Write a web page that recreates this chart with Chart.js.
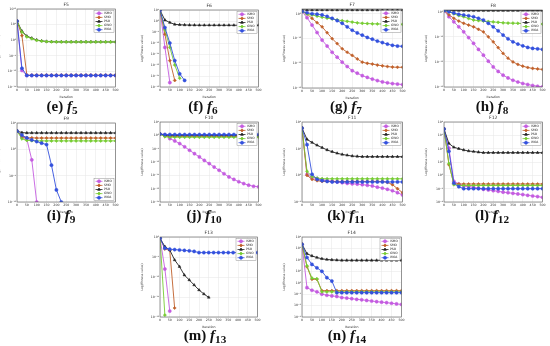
<!DOCTYPE html>
<html>
<head>
<meta charset="utf-8">
<script src="https://cdn.jsdelivr.net/npm/chart.js@4.4.0/dist/chart.umd.min.js"></script>
<style>
  body { margin: 0; background: #fff; width: 550px; height: 346px; position: relative; overflow: hidden; }
  canvas { position: absolute; }
  .cap { position: absolute; transform: translate(-50%, -50%); white-space: nowrap;
         font: bold 15px "Liberation Serif", "DejaVu Serif", serif; color: #111; }
  .cap sub { font-size: 0.75em; vertical-align: -0.25em; }
</style>
</head>
<body>
<script>
// iteration grid (one sample every 25 iterations)
const iters = [0,25,50,75,100,125,150,175,200,225,250,275,300,325,350,375,400,425,450,475,500];
const algNames = ['ISMO', 'SMO', 'PSO', 'GWO', 'WOA'];

// F5
const f5_ticks = [1e10, 1e5, 1e0, 1e-5, 1e-10, 1e-15];
const f5_ISMO = [1.3e6,2e-10,5e-12,5e-12,5e-12,5e-12,5e-12,5e-12,5e-12,5e-12,5e-12,5e-12,5e-12,5e-12,5e-12,5e-12,5e-12,5e-12,5e-12,5e-12,5e-12];
const f5_SMO  = [1.3e6,3e1,6e-12,6e-12,6e-12,6e-12,6e-12,6e-12,6e-12,6e-12,6e-12,6e-12,6e-12,6e-12,6e-12,6e-12,6e-12,6e-12,6e-12,6e-12,6e-12];
const f5_PSO  = [1.3e6,8e2,2e1,4.5,1.2,0.6,0.4,0.33,0.3,0.29,0.28,0.28,0.28,0.28,0.28,0.28,0.28,0.28,0.28,0.28,0.28];
const f5_GWO  = [1.3e6,4e2,1.2e1,3,0.9,0.5,0.36,0.31,0.29,0.28,0.27,0.27,0.27,0.27,0.27,0.27,0.27,0.27,0.27,0.27,0.27];
const f5_WOA  = [1.3e6,1e-9,5e-12,5e-12,5e-12,5e-12,5e-12,5e-12,5e-12,5e-12,5e-12,5e-12,5e-12,5e-12,5e-12,5e-12,5e-12,5e-12,5e-12,5e-12,5e-12];

// F6
const f6_ticks = [1e5, 1e0, 1e-5, 1e-10, 1e-15, 1e-20, 1e-25, 1e-30];
const f6_ISMO = [8e4,1e-12,1e-28];
const f6_SMO  = [8e4,1e-6,1e-18,1e-27];
const f6_PSO  = [8e4,2.5,0.2,0.03,0.02,0.016,0.014,0.013,0.012,0.012,0.012,0.012,0.012,0.012,0.012,0.012,0.012,0.012,0.012,0.012,0.012];
const f6_GWO  = [8e4,1e-4,1e-12,1e-20,1e-26];
const f6_WOA  = [8e4,1e-3,1e-10,1e-18,1e-24,1e-27];

// F7
const f7_ticks = [1e0, 1e-10, 1e-20, 1e-30];
const f7_ISMO = [10,0.03,3e-5,3e-8,2.5e-11,1e-13,3e-16,3e-18,3e-20,5e-22,1e-23,1e-24,1e-25,2e-26,4e-27,1e-27,3e-28,1.3e-28,6e-29,4e-29,2.5e-29];
const f7_SMO  = [10,1,0.016,3e-4,6e-6,2.5e-8,1e-10,1e-12,8e-15,3e-16,1.6e-17,6e-19,3e-20,1e-20,5e-21,2e-21,1e-21,5e-22,3e-22,2.5e-22,2.5e-22];
const f7_PSO  = [50,40,40,40,40,40,40,40,40,40,40,40,40,40,40,40,40,40,40,40,40];
const f7_GWO  = [10,1,0.4,0.13,0.045,0.02,0.01,4e-3,1.8e-3,1e-3,5e-4,2.5e-4,1.6e-4,1.3e-4,1e-4,9e-5,8e-5,7e-5,6.3e-5,6.3e-5,6e-5];
const f7_WOA  = [10,3,1.2,0.8,0.4,0.1,0.017,2e-3,1.6e-4,6e-6,2.5e-7,2e-8,2.5e-9,3e-10,6e-11,1e-11,2.5e-12,6e-13,2e-13,1e-13,8e-14];

// F8
const f8_ticks = [1e0, 1e-10, 1e-20, 1e-30];
const f8_ISMO = [3,1e-2,1e-4,1e-6,1e-8,5e-11,2.5e-13,1e-15,5e-18,2e-20,1e-22,1.6e-24,5e-26,4e-27,5e-28,1e-28,2.5e-29,1e-29,4e-30,2e-30,1.2e-30];
const f8_SMO  = [3,0.06,2.5e-3,2e-4,2.5e-5,5e-6,1e-6,1e-7,1e-8,1e-10,1e-12,5e-15,2.5e-17,3e-19,1e-20,1e-21,2e-22,6e-23,2.5e-23,1.6e-23,1e-23];
const f8_PSO  = [3,3,3,3,3,3,3,3,3,3,3,3,3,3,3,3,3,3,3,3,3];
const f8_GWO  = [3,1,0.16,0.03,0.01,2e-3,5e-4,3e-4,2e-4,1.3e-4,9e-5,6e-5,4e-5,3e-5,2.8e-5,2.5e-5,2e-5,1.8e-5,1.6e-5,1.4e-5,1.25e-5];
const f8_WOA  = [3,1,0.3,0.1,0.05,0.025,0.01,2.5e-3,5e-4,2.5e-5,1e-6,2.5e-8,5e-10,1.6e-11,1e-12,1.3e-13,2.5e-14,6e-15,2.5e-15,1.6e-15,1e-15];

// F9
const f9_ticks = [1e5, 1e0, 1e-5, 1e-10];
const f9_ISMO = [3e3,2e2,9e1,1e-2,1e-10];
const f9_SMO  = [3e3,2.5e2,1.6e2,1.5e2,1.4e2,1.4e2,1.4e2,1.4e2,1.4e2,1.4e2,1.4e2,1.4e2,1.4e2,1.4e2,1.4e2,1.4e2,1.4e2,1.4e2,1.4e2,1.4e2,1.4e2];
const f9_PSO  = [3e3,1.5e3,1.3e3,1.3e3,1.3e3,1.3e3,1.3e3,1.3e3,1.3e3,1.3e3,1.3e3,1.3e3,1.3e3,1.3e3,1.3e3,1.3e3,1.3e3,1.3e3,1.3e3,1.3e3,1.3e3];
const f9_GWO  = [3e3,1e2,5e1,4.5e1,4e1,4e1,4e1,4e1,4e1,4e1,4e1,4e1,4e1,4e1,4e1,4e1,4e1,4e1,4e1,4e1,4e1];
const f9_WOA  = [3e3,5e2,1.5e2,6e1,3e1,15,8,1e-3,2e-8,1e-10];

// F10
const f10_ticks = [1e5, 1e0, 1e-5, 1e-10, 1e-15, 1e-20, 1e-25];
const f10_ISMO = [3,1.6,6e-2,8e-3,8e-4,5e-5,2.5e-6,1.3e-7,8e-9,4e-10,2.5e-11,1.3e-12,8e-14,4e-15,2.5e-16,3e-17,4e-18,8e-19,2e-19,8e-20,5e-20];
const f10_SMO  = [3,0.5,0.4,0.4,0.4,0.4,0.4,0.4,0.4,0.4,0.4,0.4,0.4,0.4,0.4,0.4,0.4,0.4,0.4,0.4,0.4];
const f10_PSO  = [3,1.2,1,1,1,1,1,1,1,1,1,1,1,1,1,1,1,1,1,1,1];
const f10_GWO  = [3,0.3,0.2,0.2,0.2,0.2,0.2,0.2,0.2,0.2,0.2,0.2,0.2,0.2,0.2,0.2,0.2,0.2,0.2,0.2,0.2];
const f10_WOA  = [3,2,2,2,2,2,2,2,2,2,2,2,2,2,2,2,2,2,2,2,2];

// F11
const f11_ticks = [1e4, 1e2, 1e0, 1e-2];
const f11_ISMO = [3.5e3,1.15,0.7,0.56,0.47,0.4,0.35,0.32,0.28,0.25,0.23,0.22,0.2,0.18,0.16,0.13,0.11,0.09,0.07,0.05,0.034];
const f11_SMO  = [3.5e3,1,0.5,0.4,0.35,0.35,0.35,0.35,0.35,0.35,0.35,0.35,0.35,0.35,0.35,0.35,0.35,0.3,0.2,0.1,0.05];
const f11_PSO  = [3.5e3,5e2,2.9e2,1.8e2,1.2e2,80,59,45,37,32,28,26.5,25,25,25,25,25,25,25,25,25];
const f11_GWO  = [3.5e3,2,0.8,0.63,0.56,0.55,0.55,0.55,0.55,0.55,0.55,0.55,0.55,0.55,0.55,0.55,0.55,0.55,0.55,0.55,0.55];
const f11_WOA  = [3.5e3,2e2,1.2,0.5,0.4,0.35,0.32,0.32,0.32,0.32,0.32,0.32,0.32,0.32,0.32,0.32,0.32,0.32,0.32,0.32,0.32];

// F12
const f12_ticks = [1e8, 1e6, 1e4, 1e2, 1e0, 1e-2, 1e-4];
const f12_ISMO = [9e6,1.2e4,0.13,0.05,0.025,0.02,0.016,0.012,8e-3,6.5e-3,5e-3,4e-3,3e-3,2.5e-3,2e-3,1.6e-3,1.3e-3,1e-3,8e-4,6.5e-4,5e-4];
const f12_SMO  = [9e6,40,0.06,0.05,0.05,0.05,0.05,0.05,0.05,0.05,0.05,0.05,0.05,0.05,0.05,0.05,0.05,0.05,0.05,0.05,0.05];
const f12_PSO  = [9e6,6e4,1.6e4,1e4,6.3e3,4.5e3,3.7e3,3e3,2.5e3,2.5e3,2.5e3,2.5e3,2.5e3,2.5e3,2.5e3,2.5e3,2.5e3,2.5e3,2.5e3,2.5e3,2.5e3];
const f12_GWO  = [9e6,60,0.04,0.03,0.03,0.03,0.03,0.03,0.03,0.03,0.03,0.03,0.03,0.03,0.03,0.03,0.03,0.03,0.03,0.03,0.03];
const f12_WOA  = [9e6,4e3,0.07,0.02,0.01,0.01,0.01,0.01,0.01,0.01,0.01,0.01,0.01,0.01,0.01,0.01,0.01,0.01,0.01,0.01,0.01];

// F13
const f13_ticks = [1e0, 1e-5, 1e-10, 1e-15, 1e-20];
const f13_ISMO = [0.5,1e-8,3e-19];
const f13_SMO  = [0.5,1e-3,5e-4,1.8e-18];
const f13_PSO  = [0.5,4e-3,5.6e-4,1.8e-6,4e-8,3e-10,1.8e-11,1e-12,5.6e-14,5.6e-15,8e-16];
const f13_GWO  = [0.5,3e-20];
const f13_WOA  = [0.5,1.6e-3,9e-4,7e-4,5.6e-4,4.5e-4,3.5e-4,2.5e-4,1.25e-4,1.25e-4,1.25e-4,1.25e-4,1.25e-4,1.25e-4,1.25e-4,1.25e-4,1.25e-4,1.25e-4,1.25e-4,1.25e-4,1.25e-4];

// F14
const f14_ticks = [1e4, 1e3, 1e2, 1e1, 1e0, 1e-1, 1e-2, 1e-3];
const f14_ISMO = [2.3e3,0.37,0.22,0.16,0.1,0.08,0.07,0.063,0.05,0.045,0.04,0.035,0.032,0.028,0.025,0.022,0.02,0.018,0.016,0.014,0.0126];
const f14_SMO  = [2.3e3,25,2,2,0.2,0.2,0.2,0.2,0.2,0.2,0.2,0.2,0.2,0.2,0.2,0.2,0.2,0.2,0.2,0.2,0.2];
const f14_PSO  = [2.3e3,3.5e2,2.2e2,1.6e2,1.25e2,1.07e2,1e2,95,91,91,91,91,91,91,91,91,91,91,91,91,91];
const f14_GWO  = [2.3e3,30,2.5,2.2,0.16,0.16,0.16,0.16,0.16,0.16,0.16,0.16,0.16,0.16,0.16,0.16,0.16,0.16,0.16,0.16,0.16];
const f14_WOA  = [2.3e3,1.6e2,40,20,10,2.75,1.4,0.135,0.135,0.135,0.135,0.135,0.135,0.135,0.135,0.135,0.135,0.135,0.135,0.135,0.135];

const colors = ['#c45ce0', '#c0602a', '#222222', '#77cc33', '#3350dd'];
const markers = ['circle', 'rectRot', 'triangle', 'rectRot', 'circle'];

// panel layout: axes box [left, top, right, bottom] and caption centre
const panels = [
  { title: 'F5',  tag: 'e', n: 5,  box: [17, 9, 116, 87],    cap: [62, 107],  ticks: f5_ticks,  min: 1e-15, max: 1e10, series: [f5_ISMO, f5_SMO, f5_PSO, f5_GWO, f5_WOA] },
  { title: 'F6',  tag: 'f', n: 6,  box: [160, 10, 259, 87],  cap: [203, 107], ticks: f6_ticks,  min: 1e-30, max: 1e5,  series: [f6_ISMO, f6_SMO, f6_PSO, f6_GWO, f6_WOA] },
  { title: 'F7',  tag: 'g', n: 7,  box: [302, 9, 403, 88],   cap: [346, 107], ticks: f7_ticks,  min: 1e-30, max: 1e2,  series: [f7_ISMO, f7_SMO, f7_PSO, f7_GWO, f7_WOA] },
  { title: 'F8',  tag: 'h', n: 8,  box: [444, 10, 543, 87],  cap: [492, 107], ticks: f8_ticks,  min: 1e-30, max: 5,    series: [f8_ISMO, f8_SMO, f8_PSO, f8_GWO, f8_WOA] },
  { title: 'F9',  tag: 'i', n: 9,  box: [17, 123, 116, 202], cap: [61, 216],  ticks: f9_ticks,  min: 1e-10, max: 1e5,  series: [f9_ISMO, f9_SMO, f9_PSO, f9_GWO, f9_WOA], legendBottom: true },
  { title: 'F10', tag: 'j', n: 10, box: [160, 122, 259, 202], cap: [204, 216], ticks: f10_ticks, min: 1e-25, max: 1e5,  series: [f10_ISMO, f10_SMO, f10_PSO, f10_GWO, f10_WOA] },
  { title: 'F11', tag: 'k', n: 11, box: [302, 122, 403, 202], cap: [346, 216], ticks: f11_ticks, min: 1e-2,  max: 1e4,  series: [f11_ISMO, f11_SMO, f11_PSO, f11_GWO, f11_WOA] },
  { title: 'F12', tag: 'l', n: 12, box: [444, 122, 543, 202], cap: [492, 216], ticks: f12_ticks, min: 1e-4,  max: 1e8,  series: [f12_ISMO, f12_SMO, f12_PSO, f12_GWO, f12_WOA] },
  { title: 'F13', tag: 'm', n: 13, box: [160, 237, 258, 317], cap: [205, 336], ticks: f13_ticks, min: 1e-20, max: 1e0,  series: [f13_ISMO, f13_SMO, f13_PSO, f13_GWO, f13_WOA] },
  { title: 'F14', tag: 'n', n: 14, box: [302, 237, 402, 317], cap: [347, 336], ticks: f14_ticks, min: 1e-3,  max: 1e4,  series: [f14_ISMO, f14_SMO, f14_PSO, f14_GWO, f14_WOA] }
];

const sup = { '-': '⁻', '0': '⁰', '1': '¹', '2': '²', '3': '³', '4': '⁴', '5': '⁵', '6': '⁶', '7': '⁷', '8': '⁸', '9': '⁹' };
function powLabel(v) {
  const e = String(Math.round(Math.log10(v)));
  return '10' + e.split('').map(c => sup[c]).join('');
}

// title, axes box and the little legend inside the axes
const panelDeco = {
  id: 'panelDeco',
  afterDraw(chart, args, opts) {
    const { ctx, chartArea: a } = chart;
    ctx.save();
    ctx.fillStyle = '#333';
    ctx.font = '4.5px "DejaVu Sans"';
    ctx.textAlign = 'center';
    ctx.textBaseline = 'bottom';
    ctx.fillText(opts.title, (a.left + a.right) / 2, a.top - 1.5);
    ctx.strokeStyle = '#555';
    ctx.lineWidth = 0.6;
    ctx.strokeRect(a.left, a.top, a.right - a.left, a.bottom - a.top);

    const sets = chart.data.datasets;
    const w = 20, rh = 4.1, h = rh * sets.length + 1.5;
    const x0 = a.right - w - 1.5;
    const y0 = opts.bottom ? a.bottom - h - 1.5 : a.top + 1.5;
    ctx.fillStyle = '#fff';
    ctx.fillRect(x0, y0, w, h);
    ctx.strokeStyle = '#777';
    ctx.lineWidth = 0.4;
    ctx.strokeRect(x0, y0, w, h);
    sets.forEach((d, i) => {
      const y = y0 + 0.75 + rh * (i + 0.5);
      ctx.strokeStyle = d.borderColor;
      ctx.lineWidth = 0.8;
      ctx.beginPath();
      ctx.moveTo(x0 + 1.5, y);
      ctx.lineTo(x0 + 8.5, y);
      ctx.stroke();
      ctx.fillStyle = d.pointBackgroundColor;
      Chart.helpers.drawPoint(ctx, { pointStyle: d.pointStyle, radius: 1.5, borderWidth: 0.5, rotation: 0 }, x0 + 5, y);
      ctx.fillStyle = '#222';
      ctx.font = '3px "DejaVu Sans"';
      ctx.textAlign = 'left';
      ctx.textBaseline = 'middle';
      ctx.fillText(d.label, x0 + 10, y);
    });
    ctx.restore();
  }
};

const padTop = 8, yAxisW = 20, xAxisH = 12, padRight = 4;

panels.forEach(p => {
  const [L, T, R, B] = p.box;
  const cv = document.createElement('canvas');
  const w = R - L + yAxisW + padRight, h = B - T + padTop + xAxisH;
  cv.width = w; cv.height = h;
  cv.style.width = w + 'px'; cv.style.height = h + 'px';
  cv.style.left = (L - yAxisW) + 'px';
  cv.style.top = (T - padTop) + 'px';
  document.body.appendChild(cv);

  const cap = document.createElement('div');
  cap.className = 'cap';
  cap.style.left = p.cap[0] + 'px';
  cap.style.top = p.cap[1] + 'px';
  cap.innerHTML = '(' + p.tag + ') <i>f</i><sub>' + p.n + '</sub>';
  document.body.appendChild(cap);

  const datasets = p.series.map((vals, i) => ({
    label: algNames[i],
    data: vals.map((v, j) => ({ x: iters[j], y: v })),
    borderColor: colors[i],
    backgroundColor: colors[i],
    pointBackgroundColor: colors[i],
    pointBorderColor: colors[i],
    pointStyle: markers[i],
    pointRadius: 1.6,
    pointBorderWidth: 0.5,
    borderWidth: 0.9,
    order: 4 - i
  }));

  const tickFont = { family: 'DejaVu Sans', size: 3.2 };
  new Chart(cv, {
    type: 'line',
    data: { datasets },
    options: {
      animation: false,
      responsive: false,
      devicePixelRatio: 1,
      layout: { padding: { top: padTop, right: padRight, left: 0, bottom: 0 } },
      plugins: {
        legend: { display: false },
        tooltip: { enabled: false },
        panelDeco: { title: p.title, bottom: !!p.legendBottom }
      },
      scales: {
        x: {
          type: 'linear', min: 0, max: 500,
          ticks: { stepSize: 50, font: tickFont, color: '#333', padding: 1, maxRotation: 0, autoSkip: false },
          grid: { color: '#e4e4e4', lineWidth: 0.5, drawTicks: false },
          border: { display: false },
          title: { display: true, text: 'Iteration', font: { family: 'DejaVu Sans', size: 3.2 }, color: '#333', padding: { top: 1, bottom: 0 } },
          afterFit(s) { s.height = xAxisH; s.paddingLeft = 0; s.paddingRight = 0; }
        },
        y: {
          type: 'logarithmic', min: p.min, max: p.max,
          afterBuildTicks(s) { s.ticks = p.ticks.map(v => ({ value: v })); },
          ticks: { callback: v => powLabel(v), font: tickFont, color: '#333', padding: 1 },
          grid: { color: '#e4e4e4', lineWidth: 0.5, drawTicks: false },
          border: { display: false },
          title: { display: true, text: 'Log(Fitness value)', font: { family: 'DejaVu Sans', size: 3 }, color: '#333', padding: 0 },
          afterFit(s) { s.width = yAxisW; s.paddingTop = 0; s.paddingBottom = 0; }
        }
      }
    },
    plugins: [panelDeco]
  });
});
</script>
</body>
</html>
